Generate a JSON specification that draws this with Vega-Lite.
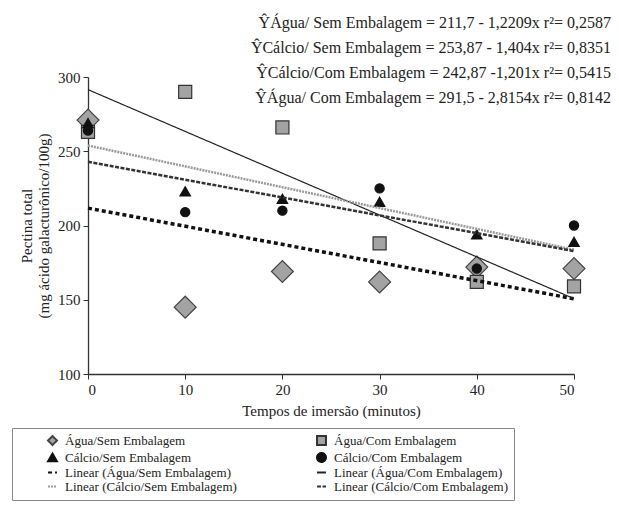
{
  "$schema": "https://vega.github.io/schema/vega-lite/v6.json",
  "width": 486,
  "height": 297,
  "autosize": {"type": "none"},
  "padding": {"left": 88, "top": 77, "right": 45, "bottom": 132},
  "background": "white",
  "config": {
    "view": {"stroke": null},
    "font": "Liberation Serif",
    "axis": {
      "labelFont": "Liberation Serif", "labelFontSize": 15, "labelColor": "#222",
      "titleFont": "Liberation Serif", "titleFontSize": 15, "titleFontWeight": "normal", "titleColor": "#222",
      "domainColor": "#333", "tickColor": "#333", "tickSize": 5, "grid": false, "domainWidth": 1.3
    },
    "legend": {
      "orient": "none", "legendX": -76, "legendY": 351, "columns": 2,
      "strokeColor": "#888", "fillColor": "white", "padding": 6, "symbolOffset": 28,
      "symbolSize": 80, "symbolStrokeWidth": 2,
      "labelFont": "Liberation Serif", "labelFontSize": 13, "labelColor": "#222",
      "rowPadding": 0, "columnPadding": 50, "labelOffset": 6, "labelLimit": 300
    }
  },
  "title": {
    "text": [
      "ŶÁgua/ Sem Embalagem = 211,7 - 1,2209x  r²= 0,2587",
      "ŶCálcio/ Sem Embalagem = 253,87 - 1,404x  r²= 0,8351",
      "ŶCálcio/Com Embalagem = 242,87 -1,201x  r²= 0,5415",
      "ŶÁgua/ Com Embalagem = 291,5 - 2,8154x  r²= 0,8142"
    ],
    "anchor": "end", "frame": "group", "font": "Liberation Serif", "fontSize": 16,
    "fontWeight": "normal", "color": "#222", "lineHeight": 25, "offset": -36, "dx": 37
  },
  "datasets": {
    "points": [
      {"series": "Água/Sem Embalagem", "t": 0, "pectina": 271},
      {"series": "Água/Sem Embalagem", "t": 10, "pectina": 145},
      {"series": "Água/Sem Embalagem", "t": 20, "pectina": 169},
      {"series": "Água/Sem Embalagem", "t": 30, "pectina": 162},
      {"series": "Água/Sem Embalagem", "t": 40, "pectina": 172},
      {"series": "Água/Sem Embalagem", "t": 50, "pectina": 171},
      {"series": "Água/Com Embalagem", "t": 0, "pectina": 263},
      {"series": "Água/Com Embalagem", "t": 10, "pectina": 290},
      {"series": "Água/Com Embalagem", "t": 20, "pectina": 266},
      {"series": "Água/Com Embalagem", "t": 30, "pectina": 188},
      {"series": "Água/Com Embalagem", "t": 40, "pectina": 162},
      {"series": "Água/Com Embalagem", "t": 50, "pectina": 159},
      {"series": "Cálcio/Sem Embalagem", "t": 0, "pectina": 269},
      {"series": "Cálcio/Sem Embalagem", "t": 10, "pectina": 223},
      {"series": "Cálcio/Sem Embalagem", "t": 20, "pectina": 218},
      {"series": "Cálcio/Sem Embalagem", "t": 30, "pectina": 216},
      {"series": "Cálcio/Sem Embalagem", "t": 40, "pectina": 194},
      {"series": "Cálcio/Sem Embalagem", "t": 50, "pectina": 189},
      {"series": "Cálcio/Com Embalagem", "t": 0, "pectina": 264},
      {"series": "Cálcio/Com Embalagem", "t": 10, "pectina": 209},
      {"series": "Cálcio/Com Embalagem", "t": 20, "pectina": 210},
      {"series": "Cálcio/Com Embalagem", "t": 30, "pectina": 225},
      {"series": "Cálcio/Com Embalagem", "t": 40, "pectina": 171},
      {"series": "Cálcio/Com Embalagem", "t": 50, "pectina": 200}
    ],
    "trends": [
      {"series": "Linear (Água/Sem Embalagem)", "t": 0, "pectina": 211.7},
      {"series": "Linear (Água/Sem Embalagem)", "t": 50, "pectina": 150.66},
      {"series": "Linear (Água/Com Embalagem)", "t": 0, "pectina": 291.5},
      {"series": "Linear (Água/Com Embalagem)", "t": 50, "pectina": 150.73},
      {"series": "Linear (Cálcio/Sem Embalagem)", "t": 0, "pectina": 253.87},
      {"series": "Linear (Cálcio/Sem Embalagem)", "t": 50, "pectina": 183.67},
      {"series": "Linear (Cálcio/Com Embalagem)", "t": 0, "pectina": 242.87},
      {"series": "Linear (Cálcio/Com Embalagem)", "t": 50, "pectina": 182.82}
    ]
  },
  "encoding": {
    "x": {
      "field": "t", "type": "quantitative",
      "scale": {"domain": [0, 50], "nice": false},
      "axis": {"values": [0, 10, 20, 30, 40, 50], "title": "Tempos de imersão (minutos)", "labelPadding": 3, "titlePadding": 6}
    },
    "y": {
      "field": "pectina", "type": "quantitative",
      "scale": {"domain": [100, 300], "nice": false, "zero": false},
      "axis": {"values": [100, 150, 200, 250, 300], "title": ["Pectina total", "(mg ácido galacturônico/100g)"], "titlePadding": 6, "labelPadding": 3}
    }
  },
  "layer": [
    {
      "data": {"name": "points"},
      "mark": {"type": "point", "filled": true, "strokeWidth": 1.2, "opacity": 1},
      "encoding": {
        "shape": {
          "field": "series", "type": "nominal", "legend": {"title": null},
          "scale": {
            "domain": ["Água/Sem Embalagem", "Cálcio/Sem Embalagem", "Linear (Água/Sem Embalagem)", "Linear (Cálcio/Sem Embalagem)", "Água/Com Embalagem", "Cálcio/Com Embalagem", "Linear (Água/Com Embalagem)", "Linear (Cálcio/Com Embalagem)"],
            "range": ["diamond", "triangle-up", "stroke", "stroke", "square", "circle", "stroke", "stroke"]
          }
        },
        "fill": {
          "field": "series", "type": "nominal", "legend": {"title": null},
          "scale": {
            "domain": ["Água/Sem Embalagem", "Cálcio/Sem Embalagem", "Linear (Água/Sem Embalagem)", "Linear (Cálcio/Sem Embalagem)", "Água/Com Embalagem", "Cálcio/Com Embalagem", "Linear (Água/Com Embalagem)", "Linear (Cálcio/Com Embalagem)"],
            "range": ["#a3a3a3", "#111111", "transparent", "transparent", "#a3a3a3", "#111111", "transparent", "transparent"]
          }
        },
        "stroke": {
          "field": "series", "type": "nominal", "legend": {"title": null},
          "scale": {
            "domain": ["Água/Sem Embalagem", "Cálcio/Sem Embalagem", "Linear (Água/Sem Embalagem)", "Linear (Cálcio/Sem Embalagem)", "Água/Com Embalagem", "Cálcio/Com Embalagem", "Linear (Água/Com Embalagem)", "Linear (Cálcio/Com Embalagem)"],
            "range": ["#444444", "#111111", "#111111", "#9a9a9a", "#333333", "#111111", "#222222", "#333333"]
          }
        },
        "size": {
          "field": "series", "type": "nominal", "legend": null,
          "scale": {
            "type": "ordinal",
            "domain": ["Água/Sem Embalagem", "Água/Com Embalagem", "Cálcio/Sem Embalagem", "Cálcio/Com Embalagem"],
            "range": [480, 170, 110, 85]
          }
        }
      }
    },
    {
      "data": {"name": "trends"},
      "mark": {"type": "line"},
      "encoding": {
        "stroke": {"field": "series", "type": "nominal", "legend": {"title": null}},
        "strokeDash": {
          "field": "series", "type": "nominal", "legend": {"title": null},
          "scale": {
            "domain": ["Água/Sem Embalagem", "Cálcio/Sem Embalagem", "Linear (Água/Sem Embalagem)", "Linear (Cálcio/Sem Embalagem)", "Água/Com Embalagem", "Cálcio/Com Embalagem", "Linear (Água/Com Embalagem)", "Linear (Cálcio/Com Embalagem)"],
            "range": [[1, 0], [1, 0], [4, 3], [2, 1], [1, 0], [1, 0], [1, 0], [4, 1.5]]
          }
        },
        "strokeWidth": {
          "field": "series", "type": "nominal", "legend": null,
          "scale": {
            "type": "ordinal",
            "domain": ["Linear (Água/Sem Embalagem)", "Linear (Água/Com Embalagem)", "Linear (Cálcio/Sem Embalagem)", "Linear (Cálcio/Com Embalagem)"],
            "range": [3.5, 1.2, 2.5, 2.5]
          }
        }
      }
    }
  ]
}
